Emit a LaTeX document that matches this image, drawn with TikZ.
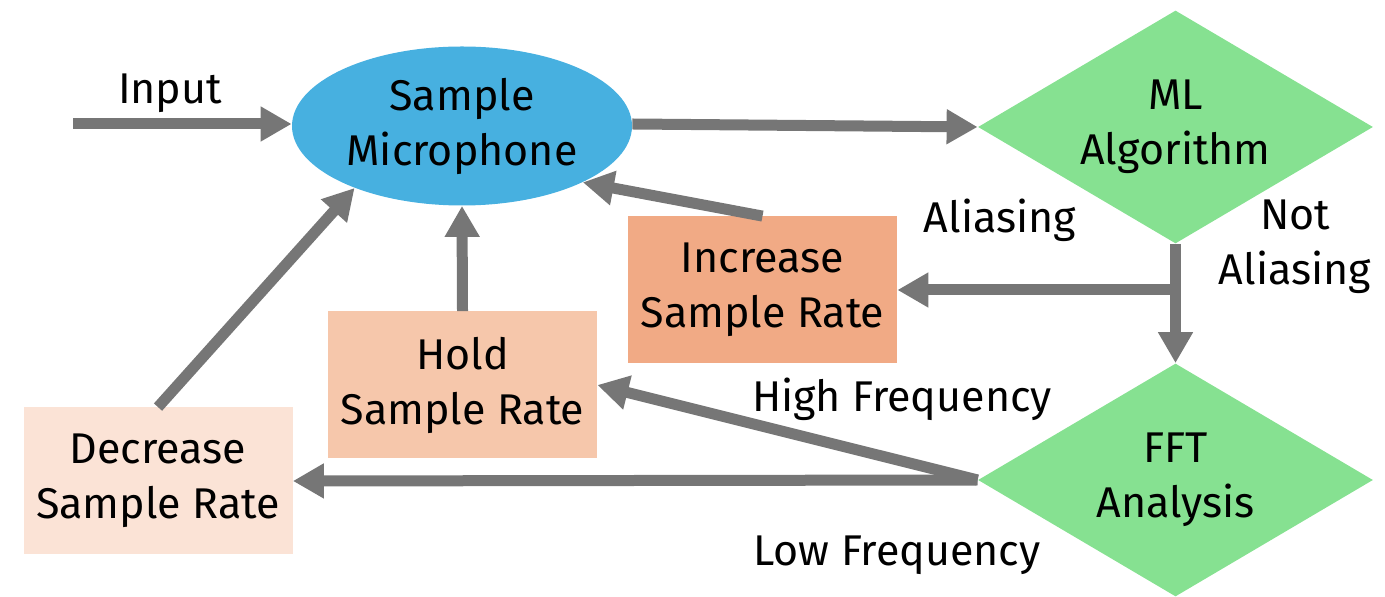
\documentclass[tikz,border=0pt]{standalone}
\usepackage{fontspec}
\setmainfont{Fira Sans}
\usetikzlibrary{arrows.meta, positioning, shapes.geometric}
\definecolor{smBlue}{HTML}{47B0E0}
\definecolor{smGreen}{HTML}{86E191}
\definecolor{smOrange}{HTML}{F1AA85}
\definecolor{smPeach}{HTML}{F6C7AB}
\definecolor{smCream}{HTML}{FBE3D6}
\definecolor{smGrey}{HTML}{767676}
\tikzset{
  txt/.style={font=\fontsize{21.5}{27.5}\selectfont, text=black, align=center},
  mic/.style={txt, ellipse, fill=smBlue, inner sep=0pt,
              minimum width=170pt, minimum height=79.5pt},
  decide/.style={txt, diamond, fill=smGreen, inner sep=0pt, shape aspect=1.7,
                 minimum width=197.5pt, minimum height=116.5pt},
  rate/.style={txt, rectangle, inner sep=0pt,
               minimum width=134.5pt, minimum height=73.5pt},
  flow/.style={-{Triangle[length=15.5pt, width=16.5pt]}, line width=5.5pt, draw=smGrey},
  lbl/.style={txt, inner sep=0pt},
}
\begin{document}
\begin{tikzpicture}[x=0.5pt, y=-0.5pt]
  \useasboundingbox (0,0) rectangle (1385,597);
  % main nodes
  \node[mic] (sample) at (462,126) {Sample\\Microphone};
  \node[decide] (ml) at (1175.5,127) {ML\\Algorithm};
  \node[decide] (fft) at (1175.5,480) {FFT\\Analysis};
  \node[rate, fill=smOrange] (inc) at (762.5,290) {Increase\\Sample Rate};
  \node[rate, fill=smPeach] (hold) at (462.5,385) {Hold\\Sample Rate};
  \node[rate, fill=smCream] (dec) at (158,481) {Decrease\\Sample Rate};
  % labels
  \node[lbl] (linput) at (170,93) {Input};
  \node[lbl] (lalias) at (1000,220) {Aliasing};
  \node[lbl] (lnot) at (1295,247) {Not\\Aliasing};
  \node[lbl] (lhigh) at (902,399) {High Frequency};
  \node[lbl] (llow) at (897,555) {Low Frequency};
  % connectors
  \coordinate (in) at (73,124);
  \coordinate (split) at (ml.south |- inc.east);
  \draw[flow] (in) -- (sample.west |- in);
  \draw[flow] (sample.east |- in) -- (ml.west);
  \draw[flow] (ml.south) -- (fft.north);
  \draw[flow] (split) -- (inc.east);
  \draw[flow] (inc.north) -- (sample.-25);
  \draw[flow] (hold.north) -- (sample.south);
  \draw[flow] (dec.north) -- (sample.-150);
  \draw[flow] (fft.west) -- (hold.east);
  \draw[flow] (fft.west) -- (dec.east);
\end{tikzpicture}
\end{document}
